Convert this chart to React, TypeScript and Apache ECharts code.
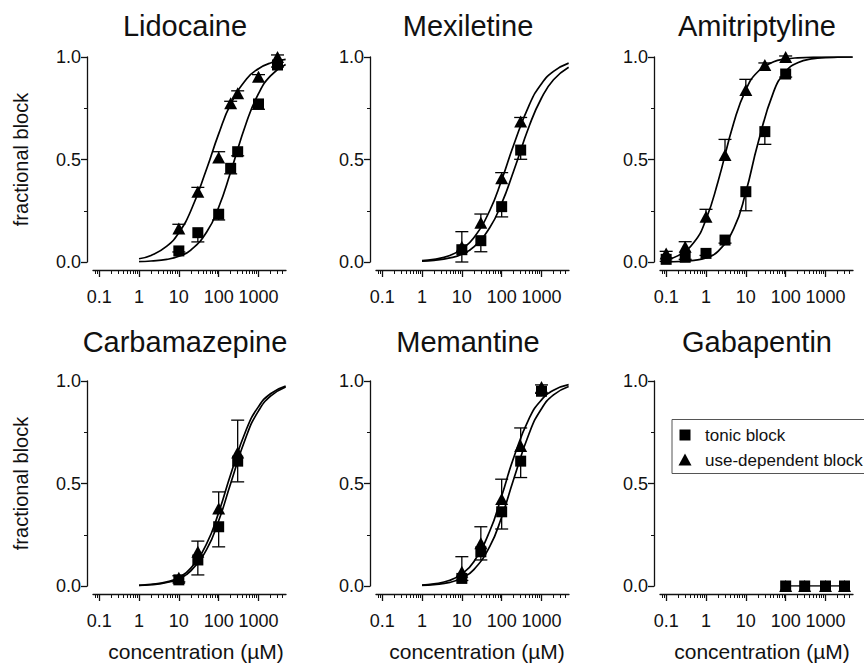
import React, { useEffect, useRef } from 'react';
import * as echarts from 'echarts';

const FONT = '"Liberation Sans", Arial, Helvetica, sans-serif';

// ---- axis definitions ----
const X_MIN = 0.07;
const X_MAX = 4900;
const X_MAJOR_TICKS = [0.1, 1, 10, 100, 1000];
const X_MAJOR_LABELS = ['0.1', '1', '10', '100', '1000'];
const X_MINOR_TICKS = [
  0.08, 0.09,
  0.2, 0.3, 0.4, 0.5, 0.6, 0.7, 0.8, 0.9,
  2, 3, 4, 5, 6, 7, 8, 9,
  20, 30, 40, 50, 60, 70, 80, 90,
  200, 300, 400, 500, 600, 700, 800, 900,
  2000, 3000, 4000,
];
const Y_MIN = 0;
const Y_MAX = 1;
const Y_INTERVAL = 0.5;

const TITLES = ['Lidocaine', 'Mexiletine', 'Amitriptyline', 'Carbamazepine', 'Memantine', 'Gabapentin'];
const LEGEND_LABELS = ['tonic block', 'use-dependent block'];

// ---- fit curve sample concentrations ----
const FIT_CONC = [1, 2, 5, 10, 20, 50, 100, 200, 500, 1000, 2000, 4800];
const FIT_CONC_AMI = [0.1, 0.2, 0.5, 1, 2, 5, 10, 20, 50, 100, 200, 500, 1000, 2000, 4800];

// ---- Lidocaine ----
const LIDO_CONC = [10, 30, 100, 200, 300, 1000, 3000];
const LIDO_TONIC = [0.054, 0.143, 0.233, 0.457, 0.538, 0.771, 0.961];
const LIDO_TONIC_SEM = [0.005, 0.045, 0.028, 0.027, 0.02, 0.026, 0.01];
const LIDO_USE = [0.164, 0.343, 0.51, 0.774, 0.823, 0.904, 1.0];
const LIDO_USE_SEM = [0.02, 0.021, 0.028, 0.01, 0.012, 0.01, 0.01];
const LIDO_TONIC_FIT = [0.002, 0.005, 0.013, 0.028, 0.058, 0.146, 0.267, 0.439, 0.682, 0.821, 0.908, 0.963];
const LIDO_USE_FIT = [0.016, 0.032, 0.077, 0.143, 0.25, 0.455, 0.625, 0.77, 0.893, 0.943, 0.971, 0.988];

// ---- Mexiletine ----
const MEX_CONC = [10, 30, 100, 300];
const MEX_TONIC = [0.06, 0.104, 0.27, 0.546];
const MEX_TONIC_SEM = [0.06, 0.054, 0.05, 0.045];
const MEX_USE = [0.075, 0.192, 0.408, 0.685];
const MEX_USE_SEM = [0.073, 0.042, 0.028, 0.02];
const MEX_TONIC_FIT = [0.004, 0.008, 0.02, 0.038, 0.074, 0.167, 0.286, 0.444, 0.667, 0.8, 0.889, 0.95];
const MEX_USE_FIT = [0.007, 0.013, 0.032, 0.063, 0.118, 0.25, 0.4, 0.571, 0.769, 0.87, 0.93, 0.97];

// ---- Amitriptyline ----
const AMI_CONC = [0.1, 0.3, 1, 3, 10, 30, 100];
const AMI_TONIC = [0.013, 0.023, 0.042, 0.107, 0.343, 0.636, 0.917];
const AMI_TONIC_SEM = [0.01, 0.01, 0.01, 0.015, 0.093, 0.062, 0.015];
const AMI_USE = [0.042, 0.075, 0.221, 0.522, 0.839, 0.961, 1.0];
const AMI_USE_SEM = [0.01, 0.024, 0.036, 0.076, 0.052, 0.01, 0.005];
const AMI_TONIC_FIT = [0.001, 0.002, 0.008, 0.02, 0.052, 0.164, 0.341, 0.577, 0.831, 0.929, 0.972, 0.992, 0.997, 0.999, 1.0];
const AMI_USE_FIT = [0.013, 0.031, 0.096, 0.208, 0.392, 0.68, 0.84, 0.928, 0.977, 0.99, 0.996, 0.999, 1.0, 1.0, 1.0];

// ---- Carbamazepine ----
const CBZ_CONC = [10, 30, 100, 300];
const CBZ_TONIC = [0.03, 0.127, 0.289, 0.609];
const CBZ_TONIC_SEM = [0.01, 0.073, 0.098, 0.101];
const CBZ_USE = [0.04, 0.167, 0.378, 0.651];
const CBZ_USE_SEM = [0.01, 0.052, 0.081, 0.158];
const CBZ_TONIC_FIT = [0.003, 0.006, 0.017, 0.036, 0.074, 0.179, 0.318, 0.5, 0.733, 0.854, 0.926, 0.971];
const CBZ_USE_FIT = [0.0035, 0.0075, 0.02, 0.042, 0.087, 0.207, 0.358, 0.544, 0.766, 0.875, 0.938, 0.975];

// ---- Memantine ----
const MEM_CONC = [10, 30, 100, 300, 1000];
const MEM_TONIC = [0.037, 0.167, 0.362, 0.609, 0.95];
const MEM_TONIC_SEM = [0.01, 0.04, 0.084, 0.08, 0.01];
const MEM_USE = [0.07, 0.208, 0.424, 0.683, 0.971];
const MEM_USE_SEM = [0.073, 0.081, 0.097, 0.088, 0.01];
const MEM_TONIC_FIT = [0.003, 0.007, 0.018, 0.039, 0.08, 0.192, 0.337, 0.521, 0.749, 0.865, 0.932, 0.973];
const MEM_USE_FIT = [0.005, 0.01, 0.028, 0.059, 0.118, 0.267, 0.439, 0.626, 0.821, 0.908, 0.955, 0.982];

// ---- Gabapentin ----
const GBP_CONC = [100, 300, 1000, 3000];
const GBP_TONIC = [0, 0, 0, 0];
const GBP_TONIC_SEM = [0, 0, 0, 0];
const GBP_USE = [0, 0, 0, 0];
const GBP_USE_SEM = [0, 0, 0, 0];

type Panel = {
  conc: number[]; tonic: number[]; tonicSem: number[]; use: number[]; useSem: number[];
  fitConc: number[] | null; tonicFit: number[] | null; useFit: number[] | null;
};

const PANELS: Panel[] = [
  { conc: LIDO_CONC, tonic: LIDO_TONIC, tonicSem: LIDO_TONIC_SEM, use: LIDO_USE, useSem: LIDO_USE_SEM, fitConc: FIT_CONC, tonicFit: LIDO_TONIC_FIT, useFit: LIDO_USE_FIT },
  { conc: MEX_CONC, tonic: MEX_TONIC, tonicSem: MEX_TONIC_SEM, use: MEX_USE, useSem: MEX_USE_SEM, fitConc: FIT_CONC, tonicFit: MEX_TONIC_FIT, useFit: MEX_USE_FIT },
  { conc: AMI_CONC, tonic: AMI_TONIC, tonicSem: AMI_TONIC_SEM, use: AMI_USE, useSem: AMI_USE_SEM, fitConc: FIT_CONC_AMI, tonicFit: AMI_TONIC_FIT, useFit: AMI_USE_FIT },
  { conc: CBZ_CONC, tonic: CBZ_TONIC, tonicSem: CBZ_TONIC_SEM, use: CBZ_USE, useSem: CBZ_USE_SEM, fitConc: FIT_CONC, tonicFit: CBZ_TONIC_FIT, useFit: CBZ_USE_FIT },
  { conc: MEM_CONC, tonic: MEM_TONIC, tonicSem: MEM_TONIC_SEM, use: MEM_USE, useSem: MEM_USE_SEM, fitConc: FIT_CONC, tonicFit: MEM_TONIC_FIT, useFit: MEM_USE_FIT },
  { conc: GBP_CONC, tonic: GBP_TONIC, tonicSem: GBP_TONIC_SEM, use: GBP_USE, useSem: GBP_USE_SEM, fitConc: null, tonicFit: null, useFit: null },
];

// ---- layout ----
const W = 864;
const H = 665;
const GRID_LEFT = [93, 376, 660];
const GRID_W = 193;
const GRID_TOP = [57, 381];
const GRID_H = 205;
const TITLE_X = [185, 468, 757];
const TITLE_Y = [26, 342];
const XNAME_X = [196, 477, 762];
const XNAME_Y = 651;
const YNAME_X = 21;
const INK = '#111';

const LMIN = Math.log10(X_MIN);
const LMAX = Math.log10(X_MAX);

function majorLabel(v: number): string {
  let best = 0;
  let bd = Infinity;
  X_MAJOR_TICKS.forEach((t, i) => {
    const d = Math.abs(Math.log10(t) - v);
    if (d < bd) { bd = d; best = i; }
  });
  return bd < 0.01 ? X_MAJOR_LABELS[best] : '';
}

function errRender(dir: number) {
  return (params: any, api: any) => {
    const x = api.value(0);
    const y = api.value(1);
    const e = api.value(2);
    if (!e) return null;
    const p0 = api.coord([x, y]);
    const p1 = api.coord([x, y + dir * e]);
    const hw = 6.5;
    const st = { stroke: '#000', lineWidth: 1.3 };
    return {
      type: 'group',
      children: [
        { type: 'line', shape: { x1: p0[0], y1: p0[1], x2: p1[0], y2: p1[1] }, style: st },
        { type: 'line', shape: { x1: p1[0] - hw, y1: p1[1], x2: p1[0] + hw, y2: p1[1] }, style: st },
      ],
    };
  };
}

function buildOption() {
  const grid: any[] = [];
  const xAxis: any[] = [];
  const yAxis: any[] = [];
  const series: any[] = [];
  const graphic: any[] = [];

  PANELS.forEach((p, i) => {
    const col = i % 3;
    const row = Math.floor(i / 3);
    grid.push({ left: GRID_LEFT[col], top: GRID_TOP[row], width: GRID_W, height: GRID_H, containLabel: false, outerBoundsMode: 'none' });

    const xi = xAxis.length;
    xAxis.push({ type: 'log', logBase: 10, gridIndex: i, min: X_MIN, max: X_MAX, show: false,
      axisLine: { show: false, onZero: false }, axisTick: { show: false }, axisLabel: { show: false }, splitLine: { show: false } });
    xAxis.push({
      type: 'value', gridIndex: i, min: LMIN, max: LMAX, position: 'bottom', offset: 8,
      axisLine: { show: true, onZero: false, lineStyle: { color: INK, width: 1.3 } },
      axisTick: { show: true, length: 7, inside: false, customValues: X_MAJOR_TICKS.map((t) => Math.log10(t)), lineStyle: { color: INK, width: 1.3 } },
      axisLabel: { show: true, customValues: X_MAJOR_TICKS.map((t) => Math.log10(t)), formatter: (v: number) => majorLabel(v),
        fontSize: 18, fontFamily: FONT, color: INK, margin: 18, hideOverlap: false, showMinLabel: true, showMaxLabel: true },
      splitLine: { show: false },
    });
    xAxis.push({
      type: 'value', gridIndex: i, min: LMIN, max: LMAX, position: 'bottom', offset: 8,
      axisLine: { show: false, onZero: false },
      axisTick: { show: true, length: 4, inside: false, customValues: X_MINOR_TICKS.map((t) => Math.log10(t)), lineStyle: { color: INK, width: 1 } },
      axisLabel: { show: false },
      splitLine: { show: false },
    });
    yAxis.push({
      type: 'value', gridIndex: i, min: Y_MIN, max: Y_MAX, interval: Y_INTERVAL, position: 'left', offset: 6,
      axisLine: { show: true, onZero: false, lineStyle: { color: INK, width: 1.3 } },
      axisTick: { show: true, length: 6, inside: false, lineStyle: { color: INK, width: 1.3 } },
      minorTick: { show: true, splitNumber: 2, length: 3, lineStyle: { color: INK, width: 1 } },
      axisLabel: { formatter: (v: number) => v.toFixed(1), fontSize: 18, fontFamily: FONT, color: INK, margin: 6 },
      splitLine: { show: false }, minorSplitLine: { show: false },
    });

    const common = { xAxisIndex: xi, yAxisIndex: i, silent: true };
    const curveStyle = { color: '#000', width: 1.7, opacity: 1 };
    if (p.fitConc && p.tonicFit && p.useFit) {
      const fc = p.fitConc;
      series.push({ ...common, type: 'line', z: 2, smooth: 0.5, symbol: 'none', clip: true,
        lineStyle: curveStyle, data: fc.map((c, k) => [c, p.tonicFit![k]]) });
      series.push({ ...common, type: 'line', z: 2, smooth: 0.5, symbol: 'none', clip: true,
        lineStyle: curveStyle, data: fc.map((c, k) => [c, p.useFit![k]]) });
    } else {
      series.push({ ...common, type: 'line', z: 2, symbol: 'none', lineStyle: curveStyle,
        data: p.conc.map((c, k) => [c, p.tonic[k]]) });
    }
    series.push({ ...common, type: 'custom', z: 3, clip: false, renderItem: errRender(-1), encode: { x: 0, y: 1 },
      data: p.conc.map((c, k) => [c, p.tonic[k], p.tonicSem[k]]) });
    series.push({ ...common, type: 'custom', z: 3, clip: false, renderItem: errRender(1), encode: { x: 0, y: 1 },
      data: p.conc.map((c, k) => [c, p.use[k], p.useSem[k]]) });
    series.push({ ...common, name: LEGEND_LABELS[0], type: 'scatter', z: 4, clip: false, symbol: 'rect', symbolSize: 11,
      itemStyle: { color: '#000', opacity: 1 }, data: p.conc.map((c, k) => [c, p.tonic[k]]) });
    series.push({ ...common, name: LEGEND_LABELS[1], type: 'scatter', z: 5, clip: false, symbol: 'triangle', symbolSize: [13, 12],
      itemStyle: { color: '#000', opacity: 1 }, data: p.conc.map((c, k) => [c, p.use[k]]) });

    graphic.push({ type: 'text', x: TITLE_X[col], y: TITLE_Y[row], silent: true,
      style: { text: TITLES[i], fontSize: 29, fontFamily: FONT, fill: INK, align: 'center', verticalAlign: 'middle' } });
    if (row === 1) {
      graphic.push({ type: 'text', x: XNAME_X[col], y: XNAME_Y, silent: true,
        style: { text: 'concentration (µM)', fontSize: 21, fontFamily: FONT, fill: INK, align: 'center', verticalAlign: 'middle' } });
    }
    if (col === 0) {
      graphic.push({ type: 'text', x: YNAME_X, y: GRID_TOP[row] + GRID_H / 2, rotation: Math.PI / 2, silent: true,
        style: { text: 'fractional block', fontSize: 20, fontFamily: FONT, fill: INK, align: 'center', verticalAlign: 'middle' } });
    }
  });

  // legend box in the Gabapentin panel
  graphic.push({ type: 'rect', shape: { x: 672, y: 419.5, width: 210, height: 54 }, silent: true,
    style: { fill: '#fff', stroke: '#555', lineWidth: 1 }, z: 10 });
  graphic.push({ type: 'rect', shape: { x: 679.5, y: 429.5, width: 11, height: 11 }, silent: true, style: { fill: '#000' }, z: 11 });
  graphic.push({ type: 'polygon', shape: { points: [[685, 453.5], [691.5, 465.5], [678.5, 465.5]] }, silent: true, style: { fill: '#000' }, z: 11 });
  graphic.push({ type: 'text', x: 705, y: 435, silent: true, z: 11,
    style: { text: LEGEND_LABELS[0], fontSize: 17, fontFamily: FONT, fill: INK, align: 'left', verticalAlign: 'middle' } });
  graphic.push({ type: 'text', x: 705, y: 460, silent: true, z: 11,
    style: { text: LEGEND_LABELS[1], fontSize: 17, fontFamily: FONT, fill: INK, align: 'left', verticalAlign: 'middle' } });

  return {
    animation: false,
    backgroundColor: '#fff',
    textStyle: { fontFamily: FONT },
    grid, xAxis, yAxis, series, graphic,
  };
}

export default function App() {
  const ref = useRef<HTMLDivElement>(null);
  useEffect(() => {
    if (!ref.current) return;
    const chart = echarts.init(ref.current, undefined, { renderer: 'svg' });
    chart.setOption(buildOption() as any);
    return () => chart.dispose();
  }, []);
  return <div ref={ref} style={{ position: 'fixed', left: 0, top: 0, width: W, height: H, background: '#fff' }} />;
}
